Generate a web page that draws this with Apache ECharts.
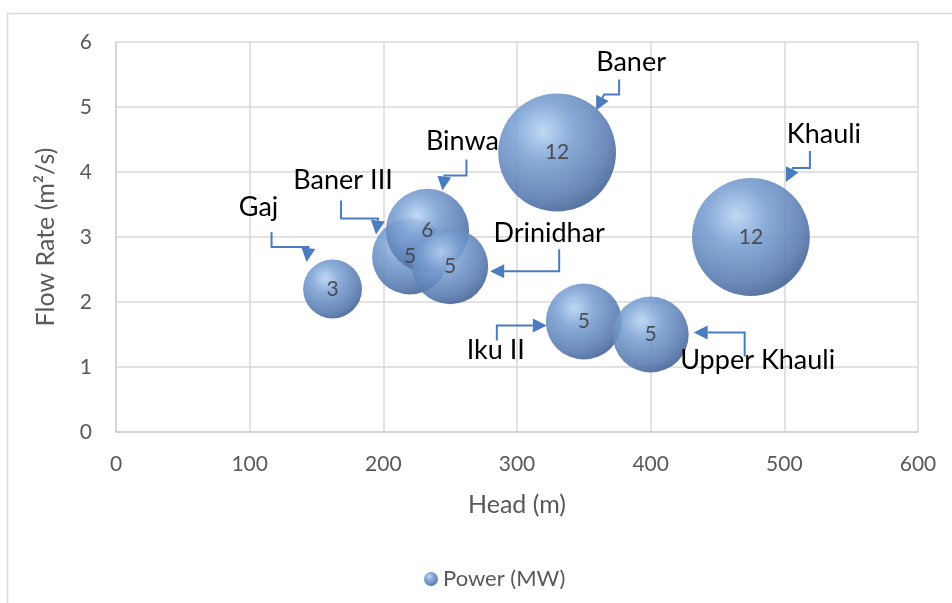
<!DOCTYPE html>
<html>
<head>
<meta charset="utf-8">
<script src="https://cdn.jsdelivr.net/npm/echarts@6/dist/echarts.min.js"></script>
<style>
html,body{margin:0;padding:0;background:#fff;}
#main{width:952px;height:603px;}
</style>
</head>
<body>
<div id="main"></div>
<script>
// 数据
var plants = ['Gaj', 'Baner III', 'Binwa', 'Drinidhar', 'Baner', 'Khauli', 'Iku II', 'Upper Khauli'];
var head = [162, 220, 233, 250, 330, 475, 350, 400];
var flow = [2.2, 2.7, 3.1, 2.55, 4.3, 3.0, 1.7, 1.5];
var power = [3, 5, 6, 5, 12, 12, 5, 5];

// callout layout, pixel offsets from bubble centre
var calloutText = [[-74, -82], [-67, -76], [35, -89], [99, -33], [74, -90], [73, -103], [-88, 29], [107, 26]];
var calloutPath = [
	[[-61, -57], [-61, -42], [-24, -42], [-26, -27]],
	[[-69, -56], [-69, -38], [-32, -38], [-34, -22]],
	[[39, -71], [39, -55], [17, -55], [15, -40]],
	[[109, -17], [109, 5], [40, 5]],
	[[62, -73], [62, -58], [47, -58], [39, -42]],
	[[59, -86], [59, -69], [42, -69], [35, -55]],
	[[-87, 19], [-87, 4], [-37, 4]],
	[[94, 22], [94, -2], [43, -2]]
];

var arrowColor = '#4a7cc0';
var chart = echarts.init(document.getElementById('main'));

var points = [];
for (var i = 0; i < plants.length; i++) {
	points.push([head[i], flow[i], power[i], plants[i]]);
}

var option = {
	animation: false,
	backgroundColor: '#fff',
	grid: {
		left: 116,
		right: 34,
		top: 42,
		bottom: 171
	},
	legend: {
		left: 419,
		top: 563,
		icon: 'circle',
		itemWidth: 14,
		itemHeight: 14,
		itemGap: 10,
		textStyle: {
			color: '#595959',
			fontSize: 22,
			fontFamily: 'Lato'
		},
		data: ['Power (MW)']
	},
	xAxis: {
		type: 'value',
		min: 0,
		max: 600,
		interval: 100,
		name: 'Head (m)',
		nameLocation: 'middle',
		nameGap: 60,
		nameTextStyle: {
			color: '#595959',
			fontSize: 25,
			fontFamily: 'Lato'
		},
		axisLine: {
			show: true,
			lineStyle: { color: '#d0d0d0', width: 1.5 }
		},
		axisTick: { show: false },
		axisLabel: {
			color: '#595959',
			fontSize: 21,
			fontFamily: 'Lato',
			margin: 22
		},
		splitLine: {
			lineStyle: { color: '#d9d9d9', width: 1.5 }
		}
	},
	yAxis: {
		type: 'value',
		min: 0,
		max: 6,
		interval: 1,
		name: 'Flow Rate (m²/s)',
		nameLocation: 'middle',
		nameGap: 58,
		nameTextStyle: {
			color: '#595959',
			fontSize: 25,
			fontFamily: 'Lato'
		},
		axisLine: {
			show: true,
			lineStyle: { color: '#d0d0d0', width: 1.5 }
		},
		axisTick: { show: false },
		axisLabel: {
			color: '#595959',
			fontSize: 21,
			fontFamily: 'Lato',
			margin: 24
		},
		splitLine: {
			lineStyle: { color: '#d9d9d9', width: 1.5 }
		}
	},
	series: [{
		name: 'Power (MW)',
		type: 'scatter',
		data: points,
		symbolSize: function (val) {
			return 34 * Math.sqrt(val[2]);
		},
		itemStyle: {
			opacity: 0.88,
			color: {
				type: 'radial',
				x: 0.38,
				y: 0.32,
				r: 0.72,
				colorStops: [
					{ offset: 0, color: '#b8d3f3' },
					{ offset: 0.35, color: '#7aa0d2' },
					{ offset: 0.8, color: '#5679b0' },
					{ offset: 1, color: '#3f5f90' }
				]
			}
		},
		label: {
			show: true,
			position: 'inside',
			formatter: function (p) { return p.value[2]; },
			color: '#404040',
			fontSize: 21,
			fontFamily: 'Lato'
		},
		emphasis: { disabled: true }
	}]
};
chart.setOption(option);

// callouts with elbow arrows
function addCallouts() {
	var els = [];
	els.push({
		type: 'rect',
		shape: { x: 7.5, y: 13.5, width: 980, height: 640 },
		style: { fill: null, stroke: '#d9d9d9', lineWidth: 1.5 },
		silent: true
	});
	for (var i = 0; i < plants.length; i++) {
		var c = chart.convertToPixel({ seriesIndex: 0 }, [head[i], flow[i]]);
		var pts = calloutPath[i].map(function (p) { return [c[0] + p[0], c[1] + p[1]]; });
		var a = pts[pts.length - 2], b = pts[pts.length - 1];
		var ang = Math.atan2(b[1] - a[1], b[0] - a[0]);
		var L = 14, W = 7;
		var bx = b[0] - L * Math.cos(ang), by = b[1] - L * Math.sin(ang);
		var px = -Math.sin(ang) * W, py = Math.cos(ang) * W;
		var linePts = pts.slice(0, pts.length - 1).concat([[bx, by]]);
		els.push({
			type: 'polyline',
			shape: { points: linePts },
			style: { stroke: arrowColor, lineWidth: 2, fill: null },
			silent: true,
			z: 10
		});
		els.push({
			type: 'polygon',
			shape: { points: [b, [bx + px, by + py], [bx - px, by - py]] },
			style: { fill: arrowColor },
			silent: true,
			z: 10
		});
		els.push({
			type: 'text',
			x: c[0] + calloutText[i][0],
			y: c[1] + calloutText[i][1],
			style: {
				text: plants[i],
				font: '27px Lato',
				fill: '#000',
				align: 'center',
				verticalAlign: 'middle'
			},
			silent: true,
			z: 11
		});
	}
	chart.setOption({ graphic: els });
}
addCallouts();
</script>
</body>
</html>
